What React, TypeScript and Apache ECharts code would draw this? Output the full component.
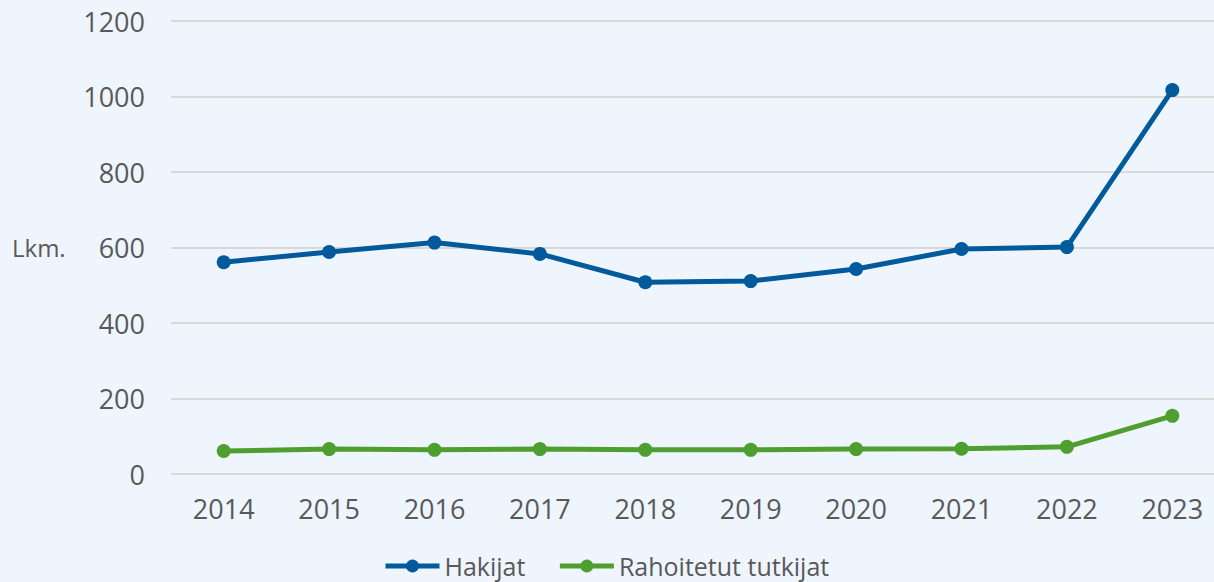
import React, { useEffect, useRef } from "react";
import * as echarts from "echarts";

const years = ["2014", "2015", "2016", "2017", "2018", "2019", "2020", "2021", "2022", "2023"];
const hakijat = [561, 588, 613, 583, 508, 511, 543, 596, 601, 1017];
const rahoitetut = [61, 66, 64, 66, 64, 64, 66, 67, 72, 154];
const yTicks = { min: 0, max: 1200, interval: 200 };

const FONT = "'Open Sans', 'Noto Sans', sans-serif";
const GRAY = "#595959";

export default function App() {
  const ref = useRef<HTMLDivElement>(null);
  useEffect(() => {
    document.body.style.margin = "0";
    document.body.style.overflow = "hidden";
    const chart = echarts.init(ref.current!, null, { renderer: "svg" });
    chart.setOption({
      animation: false,
      backgroundColor: "#EEF5FD",
      textStyle: { fontFamily: FONT },
      grid: { left: 171, right: 0, top: 21, bottom: 108, containLabel: false },
      legend: {
        top: 552,
        left: 383,
        padding: 0,
        itemWidth: 54,
        itemHeight: 16,
        itemGap: 32,
        lineStyle: { width: 5 },
        textStyle: { color: GRAY, fontSize: 25, fontFamily: FONT, lineHeight: 28 },
        data: ["Hakijat", "Rahoitetut tutkijat"],
      },
      xAxis: {
        type: "category",
        data: years,
        axisLine: { show: false },
        axisTick: { show: false },
        axisLabel: { color: GRAY, fontSize: 27, margin: 21, fontFamily: FONT },
      },
      yAxis: {
        type: "value",
        min: yTicks.min,
        max: yTicks.max,
        interval: yTicks.interval,
        axisLabel: {
          color: GRAY,
          fontSize: 27,
          margin: 26,
          fontFamily: FONT,
          formatter: (v: number) => String(v),
        },
        splitLine: { lineStyle: { color: "#D9D9D9", width: 2 } },
        axisLine: { show: false },
        axisTick: { show: false },
      },
      graphic: [
        {
          type: "text",
          left: 12,
          top: 235,
          style: { text: "Lkm.", fill: GRAY, font: `24px ${FONT}` },
        },
      ],
      series: [
        {
          name: "Hakijat",
          type: "line",
          data: hakijat,
          color: "#005A9C",
          symbol: "circle",
          symbolSize: 14,
          lineStyle: { width: 5 },
        },
        {
          name: "Rahoitetut tutkijat",
          type: "line",
          data: rahoitetut,
          color: "#4E9F2F",
          symbol: "circle",
          symbolSize: 14,
          lineStyle: { width: 5 },
        },
      ],
    });
    return () => chart.dispose();
  }, []);
  return (
    <div style={{ width: 1214, height: 582, overflow: "hidden" }}>
      <div ref={ref} style={{ width: 1225, height: 582 }} />
    </div>
  );
}
